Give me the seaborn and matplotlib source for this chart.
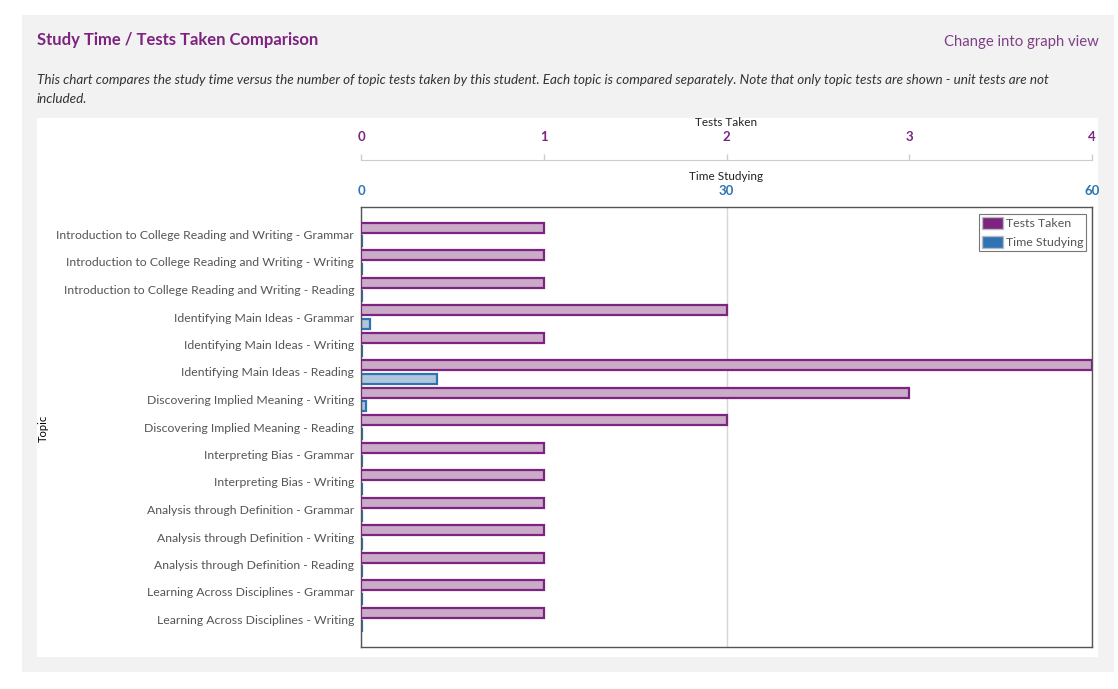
import seaborn as sns
import pandas as pd
import matplotlib.pyplot as plt
from matplotlib.patches import Rectangle, Patch

topics = [
    "Introduction to College Reading and Writing - Grammar",
    "Introduction to College Reading and Writing - Writing",
    "Introduction to College Reading and Writing - Reading",
    "Identifying Main Ideas - Grammar",
    "Identifying Main Ideas - Writing",
    "Identifying Main Ideas - Reading",
    "Discovering Implied Meaning - Writing",
    "Discovering Implied Meaning - Reading",
    "Interpreting Bias - Grammar",
    "Interpreting Bias - Writing",
    "Analysis through Definition - Grammar",
    "Analysis through Definition - Writing",
    "Analysis through Definition - Reading",
    "Learning Across Disciplines - Grammar",
    "Learning Across Disciplines - Writing",
]
tests_taken = [1, 1, 1, 2, 1, 4, 3, 2, 1, 1, 1, 1, 1, 1, 1]
time_studying = [0.05, 0.05, 0.05, 0.7, 0.05, 6.2, 0.45, 0.12, 0.05, 0.05, 0.05, 0.05, 0.05, 0.05, 0.05]
series = ["Tests Taken", "Time Studying"]
test_ticks = [0, 1, 2, 3, 4]
time_ticks = [0, 30, 60]

purple = "#7d2380"
purple_fill = "#cfa7cd"
blue = "#2e74b5"
blue_fill = "#a9c6e3"

sns.set_style("white")
plt.rcParams["font.family"] = ["Lato", "DejaVu Sans"]

tests_df = pd.DataFrame({"topic": topics, "value": tests_taken, "series": series[0]})
time_df = pd.DataFrame({"topic": topics, "value": time_studying, "series": series[1]})

fig = plt.figure(figsize=(11.18, 6.89), dpi=100, facecolor="white")
W, H = 1118, 689
fig.patches.append(Rectangle((22 / W, 1 - 672 / H), (1114 - 22) / W, (672 - 15) / H,
                             transform=fig.transFigure, facecolor="#f2f2f2", edgecolor="none", zorder=-2))
fig.patches.append(Rectangle((37 / W, 1 - 657 / H), (1098 - 37) / W, (657 - 118) / H,
                             transform=fig.transFigure, facecolor="white", edgecolor="none", zorder=-1))

ax = fig.add_axes([361 / W, 1 - 647 / H, (1092 - 361) / W, (647 - 207) / H])
ax2 = ax.twiny()

# time studying on the main axis, tests taken on the twin
sns.barplot(data=time_df, y="topic", x="value", hue="series", hue_order=series,
            palette={series[0]: purple_fill, series[1]: blue_fill}, dodge=True,
            width=1.0, gap=0.28, orient="h", ax=ax, legend=False,
            edgecolor=blue, linewidth=1.6)
sns.barplot(data=tests_df, y="topic", x="value", hue="series", hue_order=series,
            palette={series[0]: purple_fill, series[1]: blue_fill}, dodge=True,
            width=1.0, gap=0.28, orient="h", ax=ax2, legend=False,
            edgecolor=purple, linewidth=1.6)

ax.set_xlim(0, 60)
ax2.set_xlim(0, 4)
ax.set_ylim(len(topics), -1)
ax.set_facecolor("none")
ax2.set_facecolor("none")

ax.xaxis.set_ticks_position("top")
ax.xaxis.set_label_position("top")
ax.set_xticks(time_ticks, [str(v) for v in time_ticks])
ax.tick_params(axis="x", length=0, pad=7, labelsize=9.5, labelcolor=blue)
ax.set_xlabel("Time Studying", fontsize=8.5, color="#222222", labelpad=4)
ax.grid(axis="x", color="#d6d6d6", linewidth=1)
ax.set_axisbelow(True)

ax.set_ylabel("")
ax.tick_params(axis="y", length=0, pad=5, labelsize=8.85, labelcolor="#555555")
for s in ax.spines.values():
    s.set_color("#555555")
    s.set_linewidth(1)

ax2.set_xticks(test_ticks, [str(v) for v in test_ticks])
ax2.set_ylabel("")
ax2.tick_params(axis="x", direction="out", length=4, width=1, color="#cccccc",
                pad=8, labelsize=9.5, labelcolor=purple)
ax2.set_xlabel("Tests Taken", fontsize=8.5, color="#222222", labelpad=4)
ax2.spines["top"].set_position(("outward", 34))
ax2.spines["top"].set_color("#cccccc")
for k in ["left", "right", "bottom"]:
    ax2.spines[k].set_visible(False)
ax2.tick_params(axis="y", left=False, labelleft=False)

for a in (ax, ax2):
    for tk in a.xaxis.get_major_ticks():
        tk.label1.set_fontweight("bold")
        tk.label2.set_fontweight("bold")

handles = [Patch(facecolor=purple, edgecolor="#bbbbbb"), Patch(facecolor=blue, edgecolor="#bbbbbb")]
leg = ax2.legend(handles, series, loc="upper right", bbox_to_anchor=(0.992, 0.985),
                 fontsize=8.9, frameon=True, fancybox=False, borderpad=0.25,
                 handlelength=1.7, handleheight=1.2, handletextpad=0.2, labelspacing=0.5,
                 borderaxespad=0.0)
leg.get_frame().set_edgecolor("#555555")
leg.get_frame().set_linewidth(0.8)
for t in leg.get_texts():
    t.set_color("#555555")

fig.text(43 / W, 1 - 428 / H, "Topic", fontsize=8, color="black", rotation=90,
         va="center", ha="center")
fig.text(37 / W, 1 - 40 / H, "Study Time / Tests Taken Comparison", fontsize=12,
         fontweight="bold", color=purple, va="center", ha="left")
fig.text(1099 / W, 1 - 42 / H, "Change into graph view", fontsize=10.7,
         color="#7f3f86", va="center", ha="right")
fig.text(37 / W, 1 - 80 / H,
         "This chart compares the study time versus the number of topic tests taken by this student. "
         "Each topic is compared separately. Note that only topic tests are shown - unit tests are not",
         fontsize=9.7, style="italic", color="#333333", va="center", ha="left")
fig.text(37 / W, 1 - 99 / H, "included.", fontsize=9.7, style="italic", color="#333333",
         va="center", ha="left")

fig.savefig("out.png", dpi=100, facecolor=fig.get_facecolor())
